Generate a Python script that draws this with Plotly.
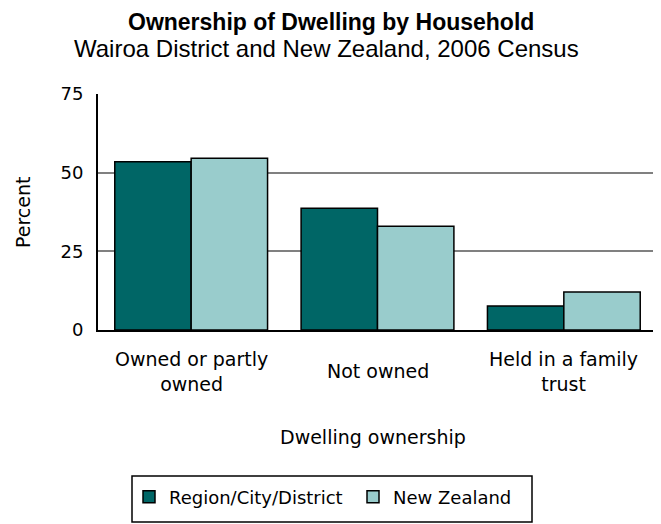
import plotly.graph_objects as go

categories = ["Owned or partly<br>owned", "Not owned", "Held in a family<br>trust"]
series_names = ["Region/City/District", "New Zealand"]
region_values = [53.5, 38.7, 7.6]
nz_values = [54.6, 33.0, 12.1]
y_ticks = [0, 25, 50, 75]

# page body has an 8px margin; positions below are given in screen pixels
OFF = 8
W, H = 661 - OFF, 524 - OFF
PX0, PX1, PY0, PY1 = 98, 657, 94, 330  # plot area on screen
L = PX0 - OFF
R = W - (PX1 - OFF)
T = PY0 - OFF
B = H - (PY1 - OFF)
pw, ph = PX1 - PX0, PY1 - PY0

def px_x(x):
    return (x - PX0) / pw

def px_y(y):
    return (PY1 - y) / ph

FONT = "DejaVu Sans, sans-serif"
TFONT = "Liberation Sans, Arial, sans-serif"

fig = go.Figure()
fig.add_trace(go.Bar(
    x=categories, y=region_values, name=series_names[0],
    marker=dict(color="#006666", line=dict(color="#000000", width=1.5)),
))
fig.add_trace(go.Bar(
    x=categories, y=nz_values, name=series_names[1],
    marker=dict(color="#99CCCC", line=dict(color="#000000", width=1.5)),
))

annotations = []
for c in categories:
    annotations.append(dict(
        x=c, xref="x", y=px_y(371), yref="paper", text=c, showarrow=False,
        xanchor="center", yanchor="middle", align="center", valign="middle",
        font=dict(family=FONT, size=19, color="#000000"),
    ))
annotations += [
    dict(x=px_x(331), xref="paper", y=px_y(21.5), yref="paper",
         text="<b>Ownership of Dwelling by Household</b>", showarrow=False,
         xanchor="center", yanchor="middle",
         font=dict(family=TFONT, size=23, color="#000000")),
    dict(x=px_x(326), xref="paper", y=px_y(48), yref="paper",
         text="Wairoa District and New Zealand, 2006 Census", showarrow=False,
         xanchor="center", yanchor="middle",
         font=dict(family=TFONT, size=24, color="#000000")),
    dict(x=px_x(373), xref="paper", y=px_y(437), yref="paper",
         text="Dwelling ownership", showarrow=False,
         xanchor="center", yanchor="middle",
         font=dict(family=FONT, size=19, color="#000000")),
    dict(x=px_x(23), xref="paper", y=px_y(212), yref="paper",
         text="Percent", showarrow=False, textangle=-90,
         xanchor="center", yanchor="middle",
         font=dict(family=FONT, size=19, color="#000000")),
]

fig.update_layout(
    width=W, height=H,
    margin=dict(l=L, r=R, t=T, b=B, pad=0),
    paper_bgcolor="#FFFFFF", plot_bgcolor="#FFFFFF",
    barmode="group", bargap=0.18, bargroupgap=0,
    showlegend=True,
    legend=dict(
        orientation="h", x=px_x(129), xanchor="left",
        y=px_y(497), yanchor="middle",
        borderwidth=0, bgcolor="rgba(0,0,0,0)",
        font=dict(family=FONT, size=18, color="#000000"),
        entrywidth=179, entrywidthmode="pixels",
        traceorder="normal",
    ),
    annotations=annotations,
    xaxis=dict(
        showticklabels=False, showgrid=False, zeroline=False,
        showline=True, linecolor="#000000", linewidth=2, ticks="",
    ),
    yaxis=dict(
        range=[0, 75], tickvals=y_ticks, ticktext=[str(v) for v in y_ticks],
        showgrid=True, gridcolor="#808080", gridwidth=1.5,
        zeroline=False, showline=True, linecolor="#000000", linewidth=2,
        ticks="", ticklabelstandoff=9,
        tickfont=dict(family=FONT, size=18, color="#000000"),
    ),
    shapes=[
        dict(type="line", xref="paper", yref="paper", x0=1, x1=1, y0=0, y1=1,
             line=dict(color="#808080", width=1.5)),
        dict(type="rect", xref="paper", yref="paper",
             x0=px_x(132), x1=px_x(532), y0=px_y(476), y1=px_y(522),
             line=dict(color="#000000", width=1.5), fillcolor="rgba(0,0,0,0)"),
    ],
)

fig.write_html("out.html")
